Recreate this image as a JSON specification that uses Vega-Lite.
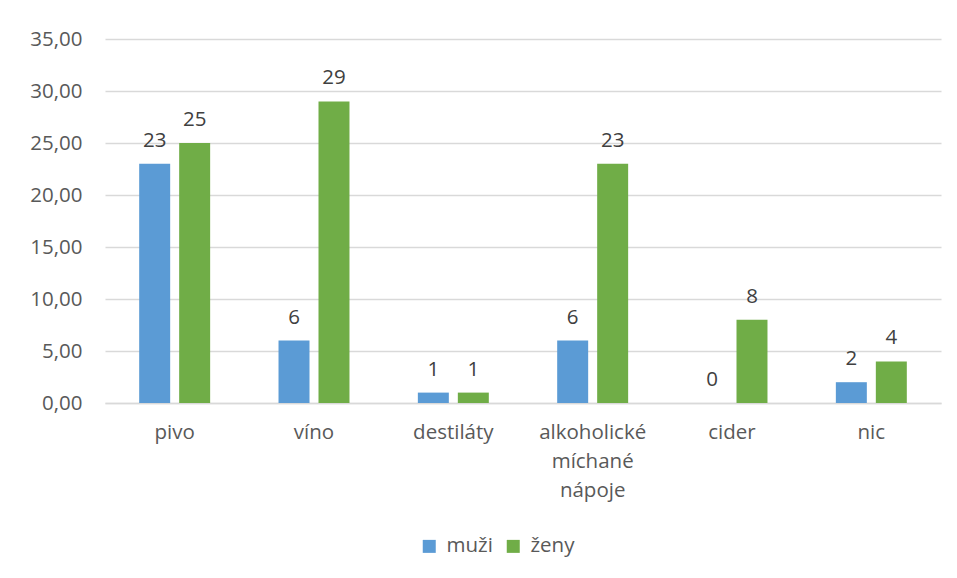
{
  "$schema": "https://vega.github.io/schema/vega-lite/v6.json",
  "width": 836,
  "height": 364,
  "autosize": {"type": "none"},
  "padding": {"left": 105, "top": 39, "right": 16, "bottom": 175},
  "background": "white",
  "data": {
    "values": [
      {"napoj": "pivo", "pohlavi": "muži", "hodnota": 23},
      {"napoj": "pivo", "pohlavi": "ženy", "hodnota": 25},
      {"napoj": "víno", "pohlavi": "muži", "hodnota": 6},
      {"napoj": "víno", "pohlavi": "ženy", "hodnota": 29},
      {"napoj": "destiláty", "pohlavi": "muži", "hodnota": 1},
      {"napoj": "destiláty", "pohlavi": "ženy", "hodnota": 1},
      {"napoj": "alkoholické míchané nápoje", "pohlavi": "muži", "hodnota": 6},
      {"napoj": "alkoholické míchané nápoje", "pohlavi": "ženy", "hodnota": 23},
      {"napoj": "cider", "pohlavi": "muži", "hodnota": 0},
      {"napoj": "cider", "pohlavi": "ženy", "hodnota": 8},
      {"napoj": "nic", "pohlavi": "muži", "hodnota": 2},
      {"napoj": "nic", "pohlavi": "ženy", "hodnota": 4}
    ]
  },
  "encoding": {
    "x": {
      "field": "napoj",
      "type": "nominal",
      "sort": ["pivo", "víno", "destiláty", "alkoholické míchané nápoje", "cider", "nic"],
      "scale": {"paddingInner": 0, "paddingOuter": 0},
      "axis": {
        "title": null,
        "labelAngle": 0,
        "labelFontSize": 20.5,
        "labelColor": "#595959",
        "labelPadding": 19,
        "labelBaseline": "top",
        "labelLineHeight": 29,
        "labelExpr": "datum.value == 'alkoholické míchané nápoje' ? ['alkoholické', 'míchané', 'nápoje'] : datum.value",
        "ticks": false,
        "domainColor": "#d9d9d9",
        "domainWidth": 1.5,
        "grid": false
      }
    },
    "xOffset": {
      "field": "pohlavi",
      "type": "nominal",
      "sort": ["muži", "ženy"],
      "scale": {"paddingInner": 0.225, "paddingOuter": 0.855}
    },
    "y": {
      "field": "hodnota",
      "type": "quantitative",
      "scale": {"domain": [0, 35], "nice": false},
      "axis": {
        "title": null,
        "values": [0, 5, 10, 15, 20, 25, 30, 35],
        "labelExpr": "replace(format(datum.value, '.2f'), '.', ',')",
        "labelFontSize": 20.5,
        "labelColor": "#595959",
        "labelPadding": 23,
        "domain": false,
        "ticks": false,
        "grid": true,
        "gridColor": "#d9d9d9",
        "gridWidth": 1.5
      }
    }
  },
  "layer": [
    {
      "mark": {"type": "bar"},
      "encoding": {
        "color": {
          "field": "pohlavi",
          "type": "nominal",
          "sort": ["muži", "ženy"],
          "scale": {"domain": ["muži", "ženy"], "range": ["#5B9BD5", "#70AD47"]},
          "legend": {
            "title": null,
            "orient": "none",
            "legendX": 314,
            "legendY": 497,
            "direction": "horizontal",
            "symbolType": "square",
            "symbolSize": 169,
            "symbolStrokeWidth": 0,
            "labelFontSize": 20.5,
            "labelColor": "#595959",
            "labelOffset": 7,
            "columnPadding": 10
          }
        }
      }
    },
    {
      "mark": {
        "type": "text",
        "baseline": "alphabetic",
        "dy": -17,
        "fontSize": 20.5,
        "color": "#404040"
      },
      "encoding": {
        "text": {"field": "hodnota", "type": "quantitative"}
      }
    }
  ],
  "config": {
    "view": {"stroke": null},
    "font": "Open Sans"
  }
}
